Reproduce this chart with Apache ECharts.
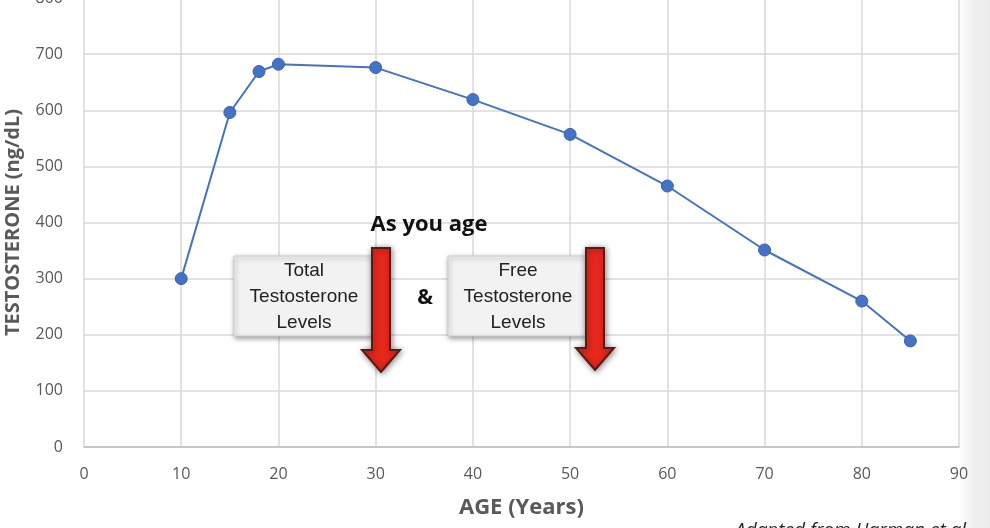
<!DOCTYPE html>
<html><head><meta charset="utf-8">
<script src="https://cdn.jsdelivr.net/npm/echarts@6/dist/echarts.min.js"></script>
<style>html,body{margin:0;padding:0;background:#fff}#c{width:990px;height:528px}</style>
</head><body><div id="c"></div>
<script>
const ages = [10, 15, 18, 20, 30, 40, 50, 60, 70, 80, 85];
const testosterone = [300, 596, 669, 682, 676, 619, 557, 465, 351, 260, 189];
const xTitle = 'AGE (Years)';
const yTitle = 'TESTOSTERONE (ng/dL)';

const chart = echarts.init(document.getElementById('c'));
const font = '"Open Sans", "Noto Sans", sans-serif';
const tickColor = '#595959';

function arrow(x, top, tip) {
  const sw = 9, hw = 19, headTop = tip - 22;
  return {
    type: 'polygon',
    shape: { points: [[x - sw, top], [x + sw, top], [x + sw, headTop], [x + hw, headTop], [x, tip], [x - hw, headTop], [x - sw, headTop]] },
    style: { fill: '#e8281c', stroke: '#5a1a14', lineWidth: 2, shadowBlur: 6, shadowColor: 'rgba(0,0,0,0.45)', shadowOffsetX: 1, shadowOffsetY: 1 },
    z: 20
  };
}
function box(x, y, w, h, lines) {
  return [{
    type: 'rect', shape: { x: x, y: y, width: w, height: h },
    style: { fill: '#f2f2f2', stroke: '#d0d0d0', lineWidth: 1, shadowBlur: 5, shadowColor: 'rgba(0,0,0,0.4)', shadowOffsetX: 1, shadowOffsetY: 2 },
    z: 15
  }, {
    type: 'text', x: x + w / 2 + 1, y: y + h / 2 + 1,
    style: { text: lines, fill: '#222', font: '19px "Liberation Sans", Arial, sans-serif', align: 'center', verticalAlign: 'middle', lineHeight: 26 },
    z: 16
  }];
}

chart.setOption({
  animation: false,
  grid: { left: 84, right: 31, top: -2, bottom: 81, containLabel: false, outerBoundsMode: 'none' },
  xAxis: {
    type: 'value', min: 0, max: 90, interval: 10,
    name: xTitle, nameLocation: 'middle', nameGap: 50,
    nameTextStyle: { fontFamily: font, fontWeight: 'bold', fontSize: 22, color: tickColor },
    axisLine: { show: true, lineStyle: { color: '#bfbfbf', width: 1.5 } },
    axisTick: { show: false },
    axisLabel: { color: tickColor, fontSize: 16, fontFamily: font, margin: 19 },
    splitLine: { show: true, lineStyle: { color: '#d9d9d9', width: 1.5 } }
  },
  yAxis: {
    type: 'value', min: 0, max: 800, interval: 100,
    name: yTitle, nameLocation: 'middle', nameGap: 61, nameRotate: 90,
    nameTextStyle: { fontFamily: font, fontWeight: 'bold', fontSize: 20, color: tickColor },
    axisLine: { show: false },
    axisTick: { show: false },
    axisLabel: { color: tickColor, fontSize: 16, fontFamily: font, margin: 21 },
    splitLine: { show: true, lineStyle: { color: '#d9d9d9', width: 1.5 } }
  },
  series: [{
    type: 'line',
    data: ages.map((a, i) => [a, testosterone[i]]),
    symbol: 'circle', symbolSize: 12,
    lineStyle: { color: '#4472c4', width: 2 },
    itemStyle: { color: '#4472c4', borderColor: '#3a62ad', borderWidth: 1 },
    z: 5
  }],
  graphic: [
    { type: 'rect', shape: { x: 958, y: 0, width: 32, height: 528 },
      style: { fill: new echarts.graphic.LinearGradient(0, 0, 1, 0, [{ offset: 0, color: '#ffffff' }, { offset: 0.5, color: '#efefef' }, { offset: 1, color: '#ebebeb' }]) }, z: -1 },
    { type: 'text', x: 429, y: 225,
      style: { text: 'As you age', font: 'bold 22px "Open Sans", "Noto Sans", sans-serif', fill: '#111', align: 'center', verticalAlign: 'middle' }, z: 20 },
    ...box(234, 256, 138, 80, 'Total\nTestosterone\nLevels'),
    ...box(448, 256, 138, 80, 'Free\nTestosterone\nLevels'),
    arrow(381, 248, 372),
    arrow(595, 248, 370),
    { type: 'text', x: 425, y: 298,
      style: { text: '&', font: 'bold 21px "Open Sans", "Noto Sans", sans-serif', fill: '#111', align: 'center', verticalAlign: 'middle' }, z: 20 },
    { type: 'text', x: 735, y: 521,
      style: { text: 'Adapted from Harman et al.', font: 'italic 19px "Open Sans", "Noto Sans", sans-serif', fill: '#222', align: 'left', verticalAlign: 'top' }, z: 20 }
  ]
});
</script>
</body></html>
